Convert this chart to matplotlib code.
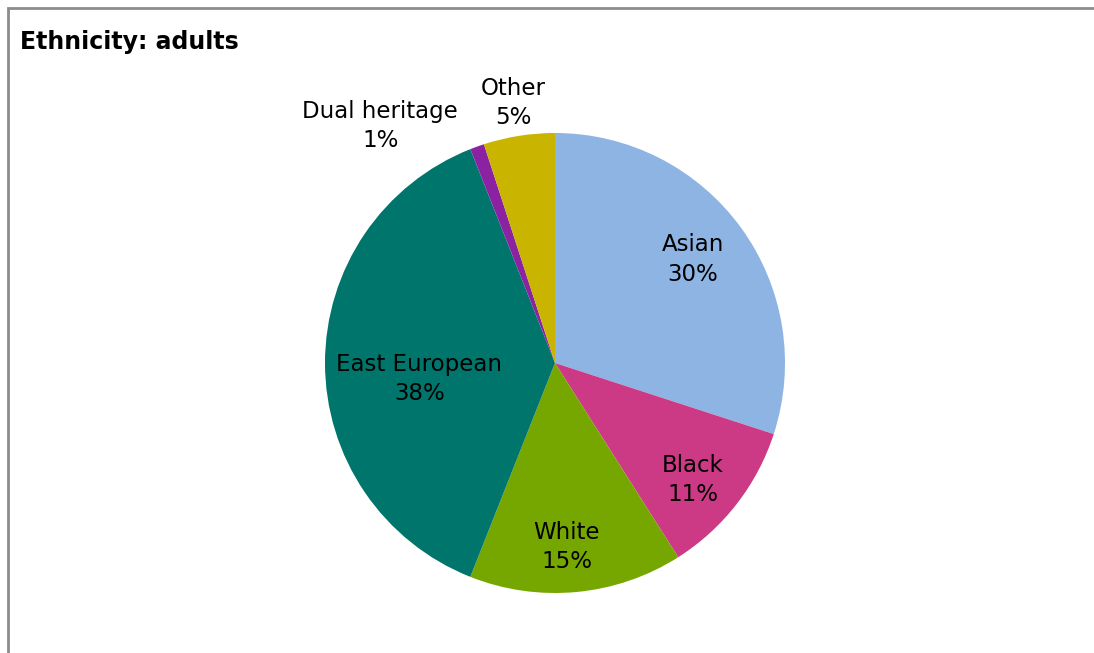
import numpy as np
import matplotlib.pyplot as plt
from matplotlib.patches import Rectangle

labels = ['Asian', 'Black', 'White', 'East European', 'Dual heritage', 'Other']
shares = [30, 11, 15, 38, 1, 5]
colors = ['#8EB4E3', '#CC3A86', '#76A600', '#00756B', '#8B22A2', '#C9B500']
# label positions as fraction of the radius (x, y from centre)
label_pos = [(0.6, 0.45), (0.6, -0.51), (0.05, -0.8), (-0.59, -0.07), (-0.76, 1.03), (-0.18, 1.13)]

fig = plt.figure(figsize=(10.94, 6.53), dpi=100)
fig.patches.append(Rectangle((8 / 1094, -0.01), 1.1, (653 - 8) / 653 + 0.01, transform=fig.transFigure,
                             fill=False, edgecolor='#8c8c8c', linewidth=2))
fig.text(20 / 1094, (653 - 42) / 653, 'Ethnicity: adults', fontsize=17, fontweight='bold',
         va='center', ha='left', color='black')

ax = fig.add_axes([(555 - 230) / 1094, (653 - 593) / 653, 460 / 1094, 460 / 653])
ax.pie(shares, colors=colors, startangle=90, counterclock=False, radius=1,
       wedgeprops={'linewidth': 0})
for lab, val, (x, y) in zip(labels, shares, label_pos):
    ax.text(x, y, f'{lab}\n{val}%', ha='center', va='center', fontsize=16.5, linespacing=1.35)
ax.set_xlim(-1, 1)
ax.set_ylim(-1, 1)
ax.set_aspect('equal')
ax.axis('off')

fig.savefig('out.png', dpi=100)
